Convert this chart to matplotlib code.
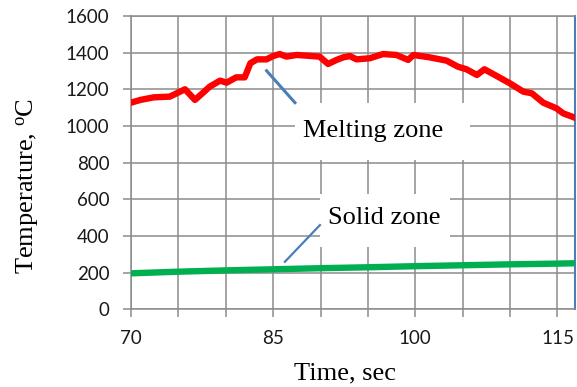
import numpy as np
import matplotlib.pyplot as plt
from matplotlib.patches import Rectangle

# melting zone temperature
melt_time = [70.0, 71.0, 72.4, 74.1, 75.7, 76.75, 77.6, 78.3, 79.4, 80.1, 81.1, 82.0,
             82.6, 83.3, 84.3, 85.0, 85.7, 86.4, 87.5, 89.9, 90.8, 91.7, 92.4, 93.1,
             93.8, 95.2, 96.6, 98.0, 99.25, 99.8, 101.5, 103.3, 104.5, 105.4, 106.5,
             107.3, 108.6, 110.0, 111.4, 112.3, 113.5, 114.9, 115.6, 117.0]
melt_temp = [1127, 1142, 1156, 1160, 1200, 1142, 1181, 1214, 1247, 1236, 1265, 1265,
             1342, 1363, 1363, 1381, 1392, 1378, 1387, 1378, 1338, 1360, 1374, 1381,
             1363, 1369, 1392, 1387, 1360, 1387, 1374, 1356, 1323, 1309, 1278,
             1309, 1272, 1232, 1187, 1178, 1127, 1096, 1069, 1042]

# solid zone temperature
solid_time = [70, 75, 80, 85, 90, 95, 100, 105, 110, 115, 117]
solid_temp = [197, 206, 213, 219, 225, 230, 236, 241, 246, 250, 252]

xticks = [70, 75, 80, 85, 90, 95, 100, 105, 110, 115]
xtick_labels = ['70', '', '', '85', '', '', '100', '', '', '115']
yticks = [0, 200, 400, 600, 800, 1000, 1200, 1400, 1600]

grid_col = '#8c8c8c'
serif = 'Liberation Serif'

fig = plt.figure(figsize=(5.77, 3.87), dpi=100)
ax = fig.add_axes([0.227, 0.2003, 0.7695, 0.7587])

ax.plot(melt_time, melt_temp, color='#ff0000', lw=4.6, solid_capstyle='round',
        solid_joinstyle='round', zorder=4)
ax.plot(solid_time, solid_temp, color='#00b050', lw=4.6, zorder=4)

ax.set_xlim(70, 116.85)
ax.set_ylim(0, 1600)
ax.set_xticks(xticks)
ax.set_xticklabels(xtick_labels)
ax.set_yticks(yticks)
ax.grid(True, color=grid_col, lw=1.1, zorder=0)
ax.set_axisbelow(True)
ax.tick_params(axis='both', direction='out', length=5.5, width=1.1, color=grid_col,
               labelsize=13.5, labelcolor='#1a1a1a')
ax.tick_params(axis='x', pad=9)
ax.tick_params(axis='y', pad=10)
for lab in ax.get_xticklabels() + ax.get_yticklabels():
    lab.set_fontfamily('Lato')

for s in ['left', 'bottom', 'top']:
    ax.spines[s].set_color(grid_col)
    ax.spines[s].set_linewidth(1.1)
ax.spines['right'].set_color('#4a7ebb')
ax.spines['right'].set_linewidth(1.5)

ax.set_xlabel('Time, sec', fontsize=19, family=serif)
ax.xaxis.set_label_coords(0.482, -0.18)
ax.set_ylabel(r'Temperature, $\mathregular{^{o}}$C', fontsize=19, family=serif)
ax.yaxis.set_label_coords(-0.203, 0.42)

# callout boxes
ax.add_patch(Rectangle((87.3, 815), 18.46, 310, facecolor='white', edgecolor='none', zorder=2))
ax.text(95.5, 970, 'Melting zone', fontsize=19, family=serif, ha='center', va='center', zorder=3)
ax.plot([84.31, 87.3], [1301, 1127], color='#4a7ebb', lw=2.2, zorder=3)

ax.add_patch(Rectangle((89.94, 341), 13.71, 288, facecolor='white', edgecolor='none', zorder=2))
ax.text(96.7, 501, 'Solid zone', fontsize=19, family=serif, ha='center', va='center', zorder=3)
ax.plot([86.24, 89.94], [260, 460], color='#4a7ebb', lw=1.6, zorder=3)

fig.savefig('out.png', dpi=100)
